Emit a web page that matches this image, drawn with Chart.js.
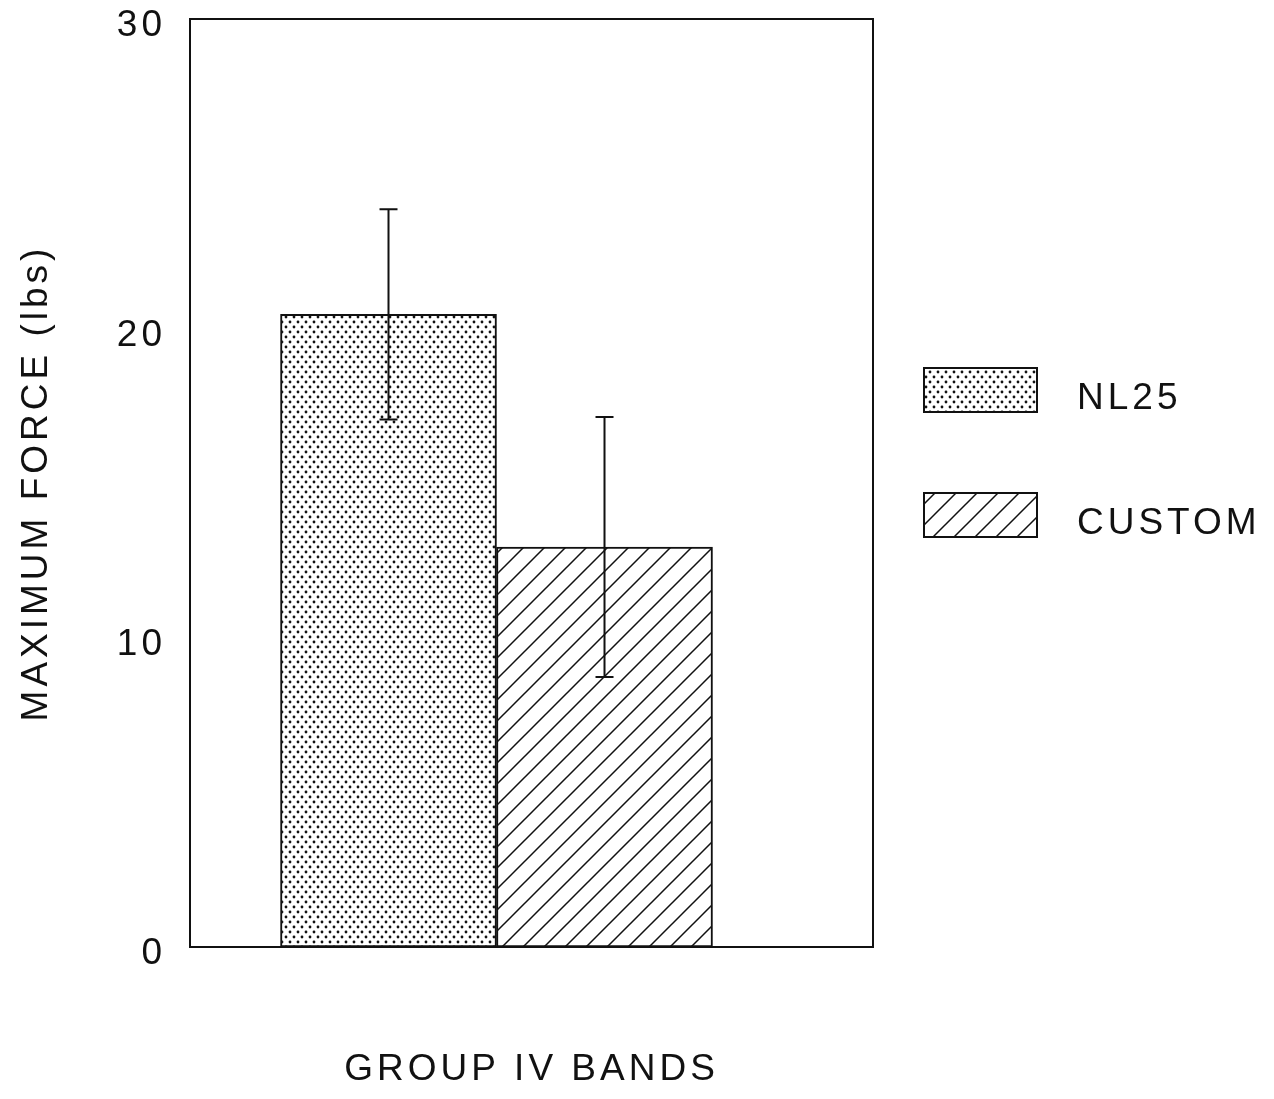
<!DOCTYPE html>
<html>
<head>
<meta charset="utf-8">
<script src="https://cdn.jsdelivr.net/npm/chart.js@4/dist/chart.umd.min.js"></script>
<style>
  html, body { margin: 0; padding: 0; background: #fff; }
  #wrap { width: 1274px; height: 1099px; position: relative; }
</style>
</head>
<body>
<div id="wrap"><canvas id="chart"></canvas></div>
<script>
// data
const groups = ['NL25', 'CUSTOM'];
const groupPos = [1, 2];
const means = [20.45, 12.93];
const errors = [3.4, 4.2];
const yTicks = [0, 10, 20, 30];

const INK = '#111';
const FONT = "'Liberation Sans', Arial, sans-serif";

// fill patterns
function dotPattern() {
    const c = document.createElement('canvas');
    c.width = 8; c.height = 10;
    const g = c.getContext('2d');
    g.fillStyle = '#fff';
    g.fillRect(0, 0, 8, 10);
    g.fillStyle = INK;
    [[2, 2], [6, 7]].forEach(p => {
        g.beginPath();
        g.arc(p[0], p[1], 1.4, 0, Math.PI * 2);
        g.fill();
    });
    return g.createPattern(c, 'repeat');
}

function hatchPattern() {
    const s = 21;
    const c = document.createElement('canvas');
    c.width = s; c.height = s;
    const g = c.getContext('2d');
    g.fillStyle = '#fff';
    g.fillRect(0, 0, s, s);
    g.strokeStyle = INK;
    g.lineWidth = 1.5;
    g.beginPath();
    g.moveTo(-2, s + 2); g.lineTo(s + 2, -2);
    g.moveTo(-2, 2); g.lineTo(2, -2);
    g.moveTo(s - 2, s + 2); g.lineTo(s + 2, s - 2);
    g.stroke();
    return g.createPattern(c, 'repeat');
}

const fills = [dotPattern(), hatchPattern()];

// spaced-out letters like the original typewriter look
const spacing = {
    id: 'spacing',
    beforeLayout(chart) { chart.ctx.letterSpacing = '4px'; },
    beforeDraw(chart) { chart.ctx.letterSpacing = '4px'; }
};

// error bars, box frame, legend
const extras = {
    id: 'extras',
    afterDatasetsDraw(chart) {
        const ctx = chart.ctx;
        const y = chart.scales.y;
        ctx.save();
        ctx.strokeStyle = INK;
        ctx.lineWidth = 2;
        chart.data.datasets.forEach((ds, i) => {
            const meta = chart.getDatasetMeta(i);
            meta.data.forEach((bar, j) => {
                const v = ds.data[j].y;
                const e = ds.errors[j];
                const top = y.getPixelForValue(v + e);
                const bot = y.getPixelForValue(v - e);
                const x = bar.x;
                ctx.beginPath();
                ctx.moveTo(x, top); ctx.lineTo(x, bot);
                ctx.moveTo(x - 9, top); ctx.lineTo(x + 9, top);
                ctx.moveTo(x - 9, bot); ctx.lineTo(x + 9, bot);
                ctx.stroke();
            });
        });
        ctx.restore();
    },
    afterDraw(chart) {
        const ctx = chart.ctx;
        const a = chart.chartArea;
        ctx.save();
        ctx.strokeStyle = INK;
        ctx.lineWidth = 2;
        ctx.strokeRect(a.left, a.top, a.right - a.left, a.bottom - a.top);

        // legend
        ctx.letterSpacing = '4px';
        ctx.font = '37px ' + FONT;
        ctx.textBaseline = 'middle';
        ctx.textAlign = 'left';
        chart.data.datasets.forEach((ds, i) => {
            const bx = 924, by = 368 + i * 125, bw = 113, bh = 44;
            ctx.fillStyle = ds.backgroundColor;
            ctx.fillRect(bx, by, bw, bh);
            ctx.lineWidth = 2;
            ctx.strokeRect(bx, by, bw, bh);
            ctx.fillStyle = INK;
            ctx.fillText(ds.label, 1077, by + bh / 2 + 9);
        });
        ctx.restore();
    }
};

new Chart(document.getElementById('chart'), {
    type: 'bar',
    data: {
        datasets: groups.map((g, i) => ({
            label: g,
            data: [{ x: groupPos[i], y: means[i] }],
            errors: [errors[i]],
            backgroundColor: fills[i],
            borderColor: INK,
            borderWidth: 2,
            borderSkipped: false,
            grouped: false,
            barPercentage: 1,
            categoryPercentage: 1
        }))
    },
    options: {
        responsive: true,
        maintainAspectRatio: false,
        animation: false,
        layout: { padding: { top: 19, right: 401, bottom: 0, left: 0 } },
        plugins: {
            legend: { display: false },
            tooltip: { enabled: false }
        },
        scales: {
            x: {
                type: 'linear',
                offset: false,
                min: 0.081,
                max: 3.243,
                grid: { display: false },
                border: { display: false },
                ticks: { display: false, stepSize: 1, includeBounds: false },
                title: {
                    display: true,
                    text: 'GROUP IV BANDS',
                    color: INK,
                    font: { family: FONT, size: 37 },
                    padding: { top: 0, bottom: 7 }
                },
                afterFit(scale) { scale.height = 152; }
            },
            y: {
                min: 0,
                max: 30,
                grid: { display: false, drawTicks: false },
                border: { display: false },
                afterBuildTicks(scale) { scale.ticks = yTicks.map(v => ({ value: v })); },
                ticks: {
                    color: INK,
                    padding: 24,
                    // empty first line nudges the number a little below the tick, as in the scan
                    callback: v => ['', String(v)],
                    font: { family: FONT, size: 37, lineHeight: 0.38 }
                },
                title: {
                    display: true,
                    text: 'MAXIMUM FORCE (lbs)',
                    color: INK,
                    font: { family: FONT, size: 37 },
                    padding: { top: 15, bottom: 0 }
                },
                afterFit(scale) {
                    scale.width = 190;
                    scale.paddingTop = 0;
                    scale.paddingBottom = 0;
                }
            }
        }
    },
    plugins: [spacing, extras]
});
</script>
</body>
</html>
